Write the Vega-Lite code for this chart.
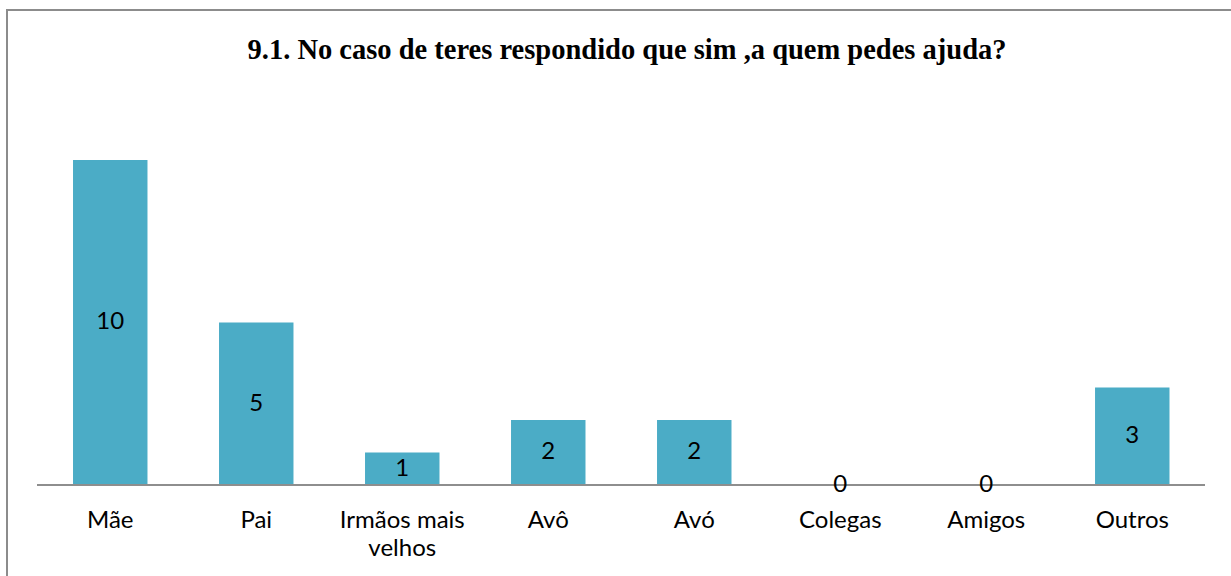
{
  "$schema": "https://vega.github.io/schema/vega-lite/v6.json",
  "autosize": {"type": "none"},
  "padding": {"left": 7, "top": 10, "right": 0, "bottom": 0},
  "width": 1240,
  "height": 580,
  "background": "white",
  "config": {
    "view": {"stroke": "#8c8c8c", "strokeWidth": 2},
    "font": "Lato"
  },
  "title": {
    "text": "9.1. No caso de teres respondido que sim ,a quem pedes ajuda?",
    "font": "Liberation Serif",
    "fontSize": 28.5,
    "fontWeight": "bold",
    "color": "black",
    "anchor": "middle",
    "baseline": "alphabetic",
    "offset": -77
  },
  "data": {
    "values": [
      {"quem": "Mãe", "n": 10},
      {"quem": "Pai", "n": 5},
      {"quem": "Irmãos mais velhos", "n": 1},
      {"quem": "Avô", "n": 2},
      {"quem": "Avó", "n": 2},
      {"quem": "Colegas", "n": 0},
      {"quem": "Amigos", "n": 0},
      {"quem": "Outros", "n": 3}
    ]
  },
  "resolve": {"scale": {"x": "independent", "y": "independent"}, "axis": {"x": "independent", "y": "independent"}},
  "layer": [
    {
      "mark": {"type": "bar", "color": "#4BACC6"},
      "encoding": {
        "x": {
          "field": "quem", "type": "nominal", "sort": null,
          "scale": {"type": "band", "domain": ["Mãe", "Pai", "Irmãos mais velhos", "Avô", "Avó", "Colegas", "Amigos", "Outros"], "paddingInner": 0.49, "paddingOuter": 0.4915, "align": 0.46},
          "axis": {
            "title": null, "orient": "bottom", "offset": -105, "domain": false, "ticks": false,
            "labelAngle": 0, "labelFont": "Lato", "labelFontSize": 24, "labelColor": "black",
            "labelBaseline": "alphabetic", "labelPadding": 42, "labelLineHeight": 28,
            "labelExpr": "datum.label == 'Irmãos mais velhos' ? ['Irmãos mais', 'velhos'] : datum.label"
          }
        },
        "y": {
          "field": "n", "type": "quantitative",
          "scale": {"domain": [-3.231, 14.615], "nice": false, "zero": false},
          "axis": null
        }
      }
    },
    {
      "mark": {"type": "rule", "color": "#8e8e8e", "strokeWidth": 1.5},
      "encoding": {
        "x": {
          "datum": "Mãe", "type": "nominal", "bandPosition": 0,
          "scale": {"type": "band", "domain": ["Mãe", "Pai", "Irmãos mais velhos", "Avô", "Avó", "Colegas", "Amigos", "Outros"], "paddingInner": 0, "paddingOuter": 0.2466, "align": 0.4167},
          "axis": null
        },
        "x2": {"datum": "Outros", "bandPosition": 1},
        "y": {
          "datum": 0, "type": "quantitative",
          "scale": {"domain": [-3.231, 14.615], "nice": false, "zero": false},
          "axis": null
        }
      }
    },
    {
      "mark": {"type": "text", "font": "Lato", "fontSize": 24, "color": "black", "baseline": "middle", "align": "center"},
      "encoding": {
        "x": {
          "field": "quem", "type": "nominal", "sort": null, "bandPosition": 0.5,
          "scale": {"type": "band", "domain": ["Mãe", "Pai", "Irmãos mais velhos", "Avô", "Avó", "Colegas", "Amigos", "Outros"], "paddingInner": 0.49, "paddingOuter": 0.4915, "align": 0.46},
          "axis": null
        },
        "y": {
          "field": "n", "type": "quantitative",
          "scale": {"domain": [-6.462, 29.231], "nice": false, "zero": false},
          "axis": null
        },
        "text": {"field": "n", "type": "quantitative"}
      }
    }
  ]
}
